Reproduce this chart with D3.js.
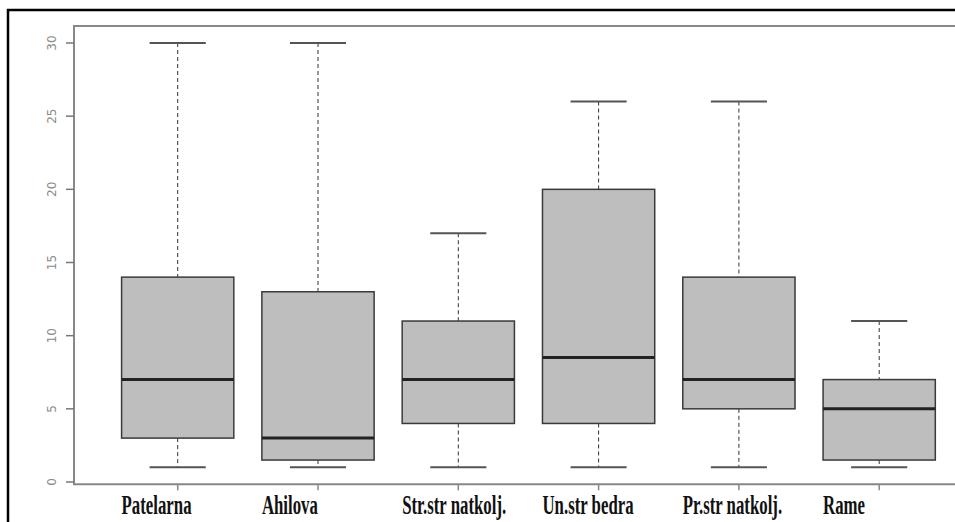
<!DOCTYPE html>
<html>
<head>
<meta charset="utf-8">
<script src="https://cdn.jsdelivr.net/npm/d3@7"></script>
<style>
  body { margin: 0; background: #fff; overflow: hidden; }
  svg { display: block; }
</style>
</head>
<body>
<div id="chart"></div>
<script>
// data
const categories = ["Patelarna", "Ahilova", "Str.str natkolj.", "Un.str bedra", "Pr.str natkolj.", "Rame"]
const whiskerLow = [1, 1, 1, 1, 1, 1]
const q1 = [3, 1.5, 4, 4, 5, 1.5]
const median = [7, 3, 7, 8.5, 7, 5]
const q3 = [14, 13, 11, 20, 14, 7]
const whiskerHigh = [30, 30, 17, 26, 26, 11]
const yTicks = [0, 5, 10, 15, 20, 25, 30]

const W = 955, H = 522

let svg = d3.select("#chart").append("svg")
  .attr("width", W).attr("height", H)

// outer frame
svg.append("path")
  .attr("d", `M8,${H} V10 H${W}`)
  .attr("fill", "none").attr("stroke", "#000").attr("stroke-width", 2.5)

let y = d3.scaleLinear().domain([0, 30]).range([482, 43])
let x = d3.scalePoint().domain(categories).range([177.7, 879.2])
let step = x.step()
let boxW = step * 0.8
let capW = boxW * 0.5

let plotTop = y(31.16), plotBottom = y(-0.16), plotLeft = 74

// plot frame (cut at the right edge)
svg.append("path")
  .attr("d", `M${W},${plotTop} H${plotLeft} V${plotBottom} H${W}`)
  .attr("fill", "none").attr("stroke", "#888").attr("stroke-width", 2)

// y axis
let yAxis = svg.append("g")
yAxis.selectAll("line").data(yTicks).join("line")
  .attr("x1", 66).attr("x2", plotLeft)
  .attr("y1", d => y(d)).attr("y2", d => y(d))
  .attr("stroke", "#777").attr("stroke-width", 1.5)
yAxis.selectAll("text").data(yTicks).join("text")
  .text(d => d)
  .attr("transform", d => `translate(56,${y(d)}) rotate(-90)`)
  .attr("text-anchor", "middle")
  .attr("fill", "#8a8a8a")
  .style("font-family", "DejaVu Sans, sans-serif")
  .style("font-size", "12px")

// x ticks
svg.append("g").selectAll("line").data(categories).join("line")
  .attr("x1", d => x(d)).attr("x2", d => x(d))
  .attr("y1", plotBottom).attr("y2", plotBottom + 6)
  .attr("stroke", "#888").attr("stroke-width", 1.5)

let boxes = svg.append("g").selectAll("g").data(categories).join("g")

// whiskers
boxes.append("line")
  .attr("x1", d => x(d)).attr("x2", d => x(d))
  .attr("y1", (d, i) => y(whiskerHigh[i])).attr("y2", (d, i) => y(q3[i]))
  .attr("stroke", "#333").attr("stroke-dasharray", "4,3")
boxes.append("line")
  .attr("x1", d => x(d)).attr("x2", d => x(d))
  .attr("y1", (d, i) => y(q1[i])).attr("y2", (d, i) => y(whiskerLow[i]))
  .attr("stroke", "#333").attr("stroke-dasharray", "4,3")

// caps
boxes.append("line")
  .attr("x1", d => x(d) - capW / 2).attr("x2", d => x(d) + capW / 2)
  .attr("y1", (d, i) => y(whiskerHigh[i])).attr("y2", (d, i) => y(whiskerHigh[i]))
  .attr("stroke", "#555").attr("stroke-width", 2)
boxes.append("line")
  .attr("x1", d => x(d) - capW / 2).attr("x2", d => x(d) + capW / 2)
  .attr("y1", (d, i) => y(whiskerLow[i])).attr("y2", (d, i) => y(whiskerLow[i]))
  .attr("stroke", "#555").attr("stroke-width", 2)

// boxes
boxes.append("rect")
  .attr("x", d => x(d) - boxW / 2).attr("width", boxW)
  .attr("y", (d, i) => y(q3[i])).attr("height", (d, i) => y(q1[i]) - y(q3[i]))
  .attr("fill", "#bebebe").attr("stroke", "#3a3a3a").attr("stroke-width", 1.5)

// medians
boxes.append("line")
  .attr("x1", d => x(d) - boxW / 2).attr("x2", d => x(d) + boxW / 2)
  .attr("y1", (d, i) => y(median[i])).attr("y2", (d, i) => y(median[i]))
  .attr("stroke", "#222").attr("stroke-width", 3)

// category labels, condensed bold serif, left aligned on the box
boxes.append("text")
  .text(d => d)
  .attr("transform", d => `translate(${x(d) - boxW / 2},514) scale(0.6,1)`)
  .attr("fill", "#111")
  .style("font-family", "Liberation Serif, Times New Roman, serif")
  .style("font-weight", "bold")
  .style("font-size", "28px")
</script>
</body>
</html>
